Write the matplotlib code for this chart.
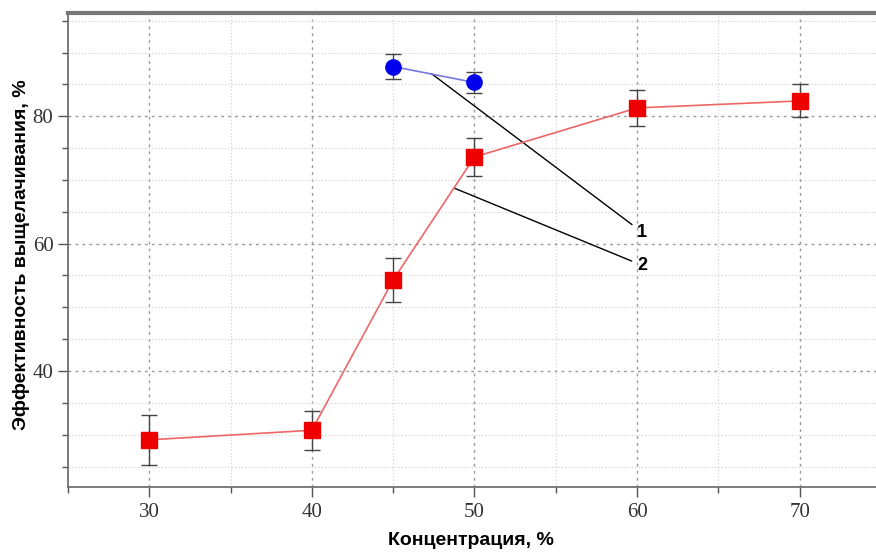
import matplotlib
matplotlib.use("Agg")
import matplotlib.pyplot as plt
from matplotlib.ticker import MultipleLocator

# Data
conc_red = [30, 40, 45, 50, 60, 70]
eff_red = [29.2, 30.7, 54.3, 73.6, 81.3, 82.4]
err_red = [3.9, 3.1, 3.5, 3.0, 2.8, 2.6]

conc_blue = [45, 50]
eff_blue = [87.8, 85.3]
err_blue = [2.0, 1.7]

x_label = "Концентрация, %"
y_label = "Эффективность выщелачивания, %"
curve_labels = ["1", "2"]

fig = plt.figure(figsize=(8.76, 5.52), dpi=100)
ax = fig.add_axes([0.0776, 0.1178, 0.9224, 0.8586])

ax.set_xlim(25, 74.7)
ax.set_ylim(21.8, 96.2)

ax.xaxis.set_major_locator(MultipleLocator(10))
ax.xaxis.set_minor_locator(MultipleLocator(5))
ax.yaxis.set_major_locator(MultipleLocator(20))
ax.yaxis.set_minor_locator(MultipleLocator(5))

ax.grid(which="major", color="#999999", linestyle=(0, (2, 3)), linewidth=1.0)
ax.grid(which="minor", color="#cccccc", linestyle=(0, (1, 2)), linewidth=0.8)
ax.set_axisbelow(True)

for side in ["left", "bottom"]:
    ax.spines[side].set_color("#666666")
    ax.spines[side].set_linewidth(1.2)
ax.spines["top"].set_color("#777777")
ax.spines["top"].set_linewidth(3)
ax.spines["right"].set_visible(False)

ax.tick_params(which="both", direction="out", colors="#555555", width=1.0)
ax.tick_params(which="major", length=7.5, labelsize=15, labelcolor="#333333")
ax.tick_params(axis="x", which="major", pad=4)
ax.tick_params(axis="y", which="major", pad=3)
ax.tick_params(which="minor", length=4.5)
for lbl in ax.get_xticklabels() + ax.get_yticklabels():
    lbl.set_family("Liberation Serif")

# Curves
ax.errorbar(conc_red, eff_red, yerr=err_red, color="#ee6666", linewidth=1.2,
            marker="s", markersize=11, markerfacecolor="#ee0000",
            markeredgecolor="#ee0000", ecolor="#444444", elinewidth=1.0,
            capsize=6, capthick=1.0, zorder=3)
ax.errorbar(conc_blue, eff_blue, yerr=err_blue, color="#7777dd", linewidth=1.2,
            marker="o", markersize=11, markerfacecolor="#0000ee",
            markeredgecolor="#0000ee", ecolor="#444444", elinewidth=1.0,
            capsize=6, capthick=1.0, zorder=3)

# Annotations
ax.annotate(curve_labels[0], xy=(47.35, 86.7), xytext=(60.0, 61.8),
            fontsize=13, fontweight="bold", family="Liberation Sans",
            va="center", ha="left",
            arrowprops=dict(arrowstyle="-", color="black", lw=1.0,
                            shrinkA=2, shrinkB=0))
ax.annotate(curve_labels[1], xy=(48.77, 68.7), xytext=(60.0, 56.6),
            fontsize=13, fontweight="bold", family="Liberation Sans",
            va="center", ha="left",
            arrowprops=dict(arrowstyle="-", color="black", lw=1.0,
                            shrinkA=2, shrinkB=0))

fig.text(0.538, 0.02, x_label, ha="center", va="center", fontsize=14,
         fontweight="bold", family="Liberation Sans")
fig.text(0.025, 0.538, y_label, ha="center", va="center", rotation=90,
         fontsize=14, fontweight="bold", family="Liberation Sans")

fig.savefig("out.png", dpi=100)
